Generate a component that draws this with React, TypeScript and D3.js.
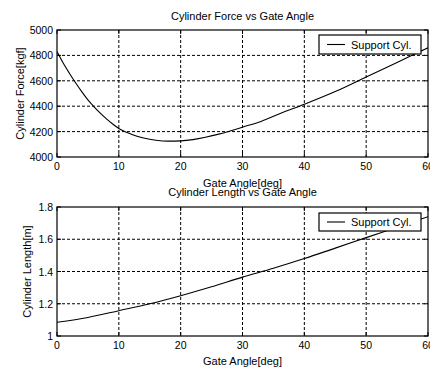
import React from "react";
import * as d3 from "d3";

const angles = [0, 1, 2, 3, 4, 5, 6, 7, 8, 9, 10, 12, 14, 16, 18, 20, 22, 24, 26, 28, 30, 33, 36, 40, 45, 50, 55, 60];
const force = [4830, 4740, 4660, 4585, 4515, 4450, 4395, 4345, 4300, 4260, 4225, 4180, 4150, 4132, 4125, 4127, 4137, 4155, 4178, 4205, 4235, 4280, 4340, 4415, 4515, 4630, 4745, 4860];

const lenAngles = [0, 5, 10, 15, 20, 25, 30, 35, 40, 45, 50, 55, 60];
const lengths = [1.085, 1.115, 1.157, 1.2, 1.25, 1.305, 1.365, 1.42, 1.48, 1.545, 1.61, 1.675, 1.74];

const xTicks = [0, 10, 20, 30, 40, 50, 60];
const forceTicks = [4000, 4200, 4400, 4600, 4800, 5000];
const lengthTicks = [1, 1.2, 1.4, 1.6, 1.8];

const FONT = "Liberation Sans, Arial, sans-serif";

type PanelProps = {
  top: number;
  bottom: number;
  xs: number[];
  ys: number[];
  yDomain: [number, number];
  yTicks: number[];
  yFmt: (v: number) => string;
  title: string;
  titleY: number;
  yLabel: string;
  yLabelX: number;
  xLabelY: number;
  legendTop: number;
  legendBottom: number;
  id: string;
};

function Panel(p: PanelProps) {
  const left = 57;
  const right = 428;
  const x = d3.scaleLinear().domain([0, 60]).range([left, right]);
  const y = d3.scaleLinear().domain(p.yDomain).range([p.bottom, p.top]);
  const line = d3
    .line<number>()
    .x((_, i) => x(p.xs[i]))
    .y((d) => y(d))
    .curve(d3.curveMonotoneX);
  const pts = p.ys;
  const cx = (left + right) / 2;
  const legMid = (p.legendTop + p.legendBottom) / 2;
  return (
    <g>
      <defs>
        <clipPath id={p.id}>
          <rect x={left} y={p.top} width={right - left} height={p.bottom - p.top} />
        </clipPath>
      </defs>
      {/* grid */}
      {xTicks.slice(1, -1).map((t) => (
        <line key={"gx" + t} x1={x(t)} x2={x(t)} y1={p.top} y2={p.bottom} stroke="#000" strokeWidth={1} strokeDasharray="3,2" />
      ))}
      {p.yTicks.slice(1, -1).map((t) => (
        <line key={"gy" + t} x1={left} x2={right} y1={y(t)} y2={y(t)} stroke="#000" strokeWidth={1} strokeDasharray="3,2" />
      ))}
      {/* curve */}
      <path d={line(pts) || ""} fill="none" stroke="#000" strokeWidth={1.1} clipPath={`url(#${p.id})`} />
      {/* box */}
      <rect x={left} y={p.top} width={right - left} height={p.bottom - p.top} fill="none" stroke="#000" strokeWidth={1.2} />
      {/* ticks */}
      {xTicks.map((t) => (
        <g key={"tx" + t}>
          <line x1={x(t)} x2={x(t)} y1={p.bottom} y2={p.bottom - 4} stroke="#000" />
          <line x1={x(t)} x2={x(t)} y1={p.top} y2={p.top + 4} stroke="#000" />
          <text x={x(t)} y={p.bottom + 13} fontSize={10.5} fontFamily={FONT} textAnchor="middle">
            {t}
          </text>
        </g>
      ))}
      {p.yTicks.map((t) => (
        <g key={"ty" + t}>
          <line x1={left} x2={left + 4} y1={y(t)} y2={y(t)} stroke="#000" />
          <line x1={right} x2={right - 4} y1={y(t)} y2={y(t)} stroke="#000" />
          <text x={left - 4} y={y(t) + 4} fontSize={10.5} fontFamily={FONT} textAnchor="end">
            {p.yFmt(t)}
          </text>
        </g>
      ))}
      {/* title */}
      <text x={cx} y={p.titleY} fontSize={11} fontFamily={FONT} textAnchor="middle">
        {p.title}
      </text>
      <text x={cx} y={p.xLabelY} fontSize={11} fontFamily={FONT} textAnchor="middle">
        Gate Angle[deg]
      </text>
      <text
        transform={`translate(${p.yLabelX},${(p.top + p.bottom) / 2}) rotate(-90)`}
        fontSize={11}
        fontFamily={FONT}
        textAnchor="middle"
      >
        {p.yLabel}
      </text>
      {/* legend */}
      <rect x={319} y={p.legendTop} width={102} height={p.legendBottom - p.legendTop} fill="#fff" stroke="#000" strokeWidth={1.2} />
      <line x1={327} x2={345} y1={legMid} y2={legMid} stroke="#000" strokeWidth={1.1} />
      <text x={351} y={legMid + 4} fontSize={11} fontFamily={FONT}>
        Support Cyl.
      </text>
    </g>
  );
}

export default function App() {
  return (
    <svg
      width={430}
      height={368}
      style={{ position: "absolute", left: 0, top: 0, background: "#fff" }}
    >
      <rect x={0} y={0} width={430} height={368} fill="#fff" />
      <Panel
        id="clipA"
        top={30}
        bottom={157}
        xs={angles}
        ys={force}
        yDomain={[4000, 5000]}
        yTicks={forceTicks}
        yFmt={(v) => String(v)}
        title="Cylinder Force vs Gate Angle"
        titleY={20}
        yLabel="Cylinder Force[kgf]"
        yLabelX={24}
        xLabelY={187}
        legendTop={35}
        legendBottom={54}
      />
      <Panel
        id="clipB"
        top={207}
        bottom={336}
        xs={lenAngles}
        ys={lengths}
        yDomain={[1, 1.8]}
        yTicks={lengthTicks}
        yFmt={(v) => (v === 1 ? "1" : v.toFixed(1))}
        title="Cylinder Length vs Gate Angle"
        titleY={196}
        yLabel="Cylinder Length[m]"
        yLabelX={31}
        xLabelY={365}
        legendTop={213}
        legendBottom={231}
      />
    </svg>
  );
}
